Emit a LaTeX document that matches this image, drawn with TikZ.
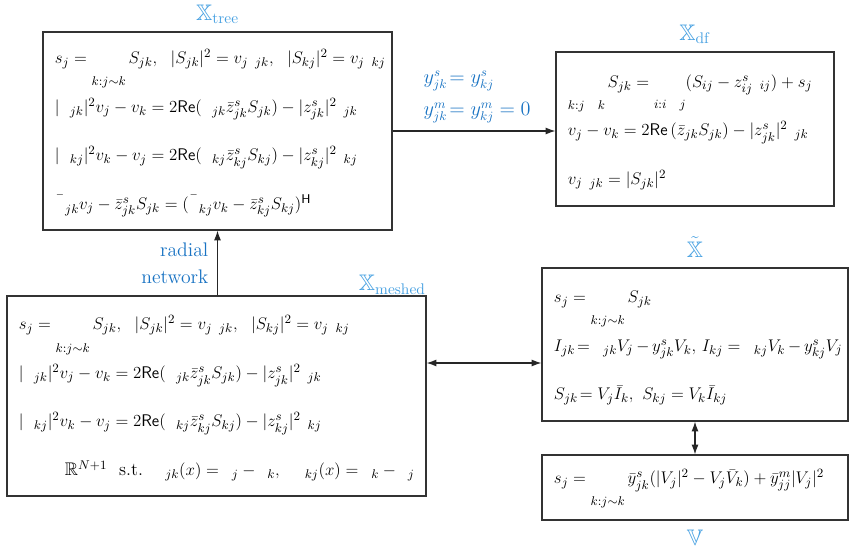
\documentclass[tikz,border=0pt]{standalone}
\usepackage{amsmath}
\usepackage{amssymb}
\usepackage{xcolor}
\usetikzlibrary{arrows.meta, positioning, calc}

\definecolor{setblue}{RGB}{70,160,225}
\definecolor{noteblue}{RGB}{25,115,195}

% sum sign left blank, limits kept
\newcommand{\gapsum}[1]{\mathop{\phantom{\displaystyle\sum}}\limits_{#1}}
\newcommand{\gap}[1]{\phantom{#1}}
% one equation line, never broken or stretched
\newcommand{\eqline}[1]{\mbox{$#1$}}

\tikzset{
  eqbox/.style={draw=black!80, line width=0.8pt, rectangle, inner xsep=0.3cm,
    align=flush left, font=\fontsize{13}{34.5}\selectfont},
  setlabel/.style={text=setblue, font=\fontsize{16}{19}\selectfont, inner sep=1pt},
  note/.style={text=noteblue, font=\fontsize{14}{19}\selectfont, inner sep=1pt},
  link/.style={-{Latex[length=7pt,width=5pt]}, line width=0.8pt, black!85},
  twoway/.style={{Latex[length=7pt,width=5pt]}-{Latex[length=7pt,width=5pt]},
    line width=0.8pt, black!85}
}

\begin{document}
\begin{tikzpicture}[x=0.025cm, y=-0.025cm]
    % page frame (pixel units)
    \useasboundingbox (0,0) rectangle (850,551);

    % Tree relaxation
    \node[eqbox, text width=8.125cm, minimum height=4.95cm] (tree) at (217.5,131) {
        \eqline{s_j = \gapsum{k:j\sim k} S_{jk},\;\ |S_{jk}|^2 = v_j\gap{\ell}_{jk},\;\ |S_{kj}|^2 = v_j\gap{\ell}_{kj}}\\
        \eqline{|\gap{\beta}_{jk}|^2 v_j - v_k = 2\mathsf{Re}(\gap{\beta}_{jk}\bar z^s_{jk}S_{jk}) - |z^s_{jk}|^2\gap{\ell}_{jk}}\\
        \eqline{|\gap{\beta}_{kj}|^2 v_k - v_j = 2\mathsf{Re}(\gap{\beta}_{kj}\bar z^s_{kj}S_{kj}) - |z^s_{kj}|^2\gap{\ell}_{kj}}\\
        \eqline{\bar{\gap{\beta}}_{jk}v_j - \bar z^s_{jk}S_{jk} = (\bar{\gap{\beta}}_{kj}v_k - \bar z^s_{kj}S_{kj})^{\mathsf{H}}}
    };
    \node[setlabel, above=0.15cm of tree] (treelabel) {$\mathbb{X}_{\mathrm{tree}}$};

    % DistFlow
    \node[eqbox, text width=6.35cm, minimum height=3.85cm] (df) at (695,129) {
        \eqline{\gapsum{k:j\gap{\to}k} S_{jk} = \gapsum{i:i\gap{\to}j}(S_{ij} - z^s_{ij}\gap{\ell}_{ij}) + s_j}\\
        \eqline{v_j - v_k = 2\mathsf{Re}\,(\bar z_{jk}S_{jk}) - |z^s_{jk}|^2\gap{\ell}_{jk}}\\
        \eqline{v_j\gap{\ell}_{jk} = |S_{jk}|^2}
    };
    \node[setlabel, above=0.15cm of df] (dflabel) {$\mathbb{X}_{\mathrm{df}}$};

    % Meshed network
    \node[eqbox, text width=9.875cm, minimum height=5cm] (meshed) at (216.5,396) {
        \eqline{s_j = \gapsum{k:j\sim k} S_{jk},\;\ |S_{jk}|^2 = v_j\gap{\ell}_{jk},\;\ |S_{kj}|^2 = v_j\gap{\ell}_{kj}}\\
        \eqline{|\gap{\beta}_{jk}|^2 v_j - v_k = 2\mathsf{Re}(\gap{\beta}_{jk}\bar z^s_{jk}S_{jk}) - |z^s_{jk}|^2\gap{\ell}_{jk}}\\
        \eqline{|\gap{\beta}_{kj}|^2 v_k - v_j = 2\mathsf{Re}(\gap{\beta}_{kj}\bar z^s_{kj}S_{kj}) - |z^s_{kj}|^2\gap{\ell}_{kj}}\\
        \eqline{\hspace{1.15cm}\mathbb{R}^{N+1}\ \ \text{s.t.}\ \ \gap{\beta}_{jk}(x) = \gap{\theta}_j - \gap{\theta}_k,\ \ \gap{\beta}_{kj}(x) = \gap{\theta}_k - \gap{\theta}_j}
    };
    \node[setlabel, anchor=south east, inner sep=0.5pt] (meshedlabel) at (meshed.north east) {$\mathbb{X}_{\mathrm{meshed}}$};

    % Branch flow model
    \node[eqbox, text width=7.05cm, minimum height=3.825cm] (bfm) at (695,344.5) {
        \eqline{s_j = \gapsum{k:j\sim k} S_{jk}}\\
        \eqline{\medmuskip=3mu I_{jk}\!= \gap{y}_{jk}V_j - y^s_{jk}V_k,\, I_{kj} = \gap{y}_{kj}V_k - y^s_{kj}V_j}\\
        \eqline{S_{jk}\!= V_j\bar I_k,\ S_{kj} = V_k\bar I_{kj}}
    };
    \node[setlabel, above=0.2cm of bfm] (bfmlabel) {$\tilde{\mathbb{X}}$};

    % Bus injection model
    \node[eqbox, text width=7.05cm, minimum height=1.625cm] (bim) at (695,487.5) {
        \eqline{s_j = \gapsum{k:j\sim k} \bar y^s_{jk}(|V_j|^2 - V_j\bar V_k) + \bar y^m_{jj}|V_j|^2}
    };
    \node[setlabel, below=0.2cm of bim] (bimlabel) {$\mathbb{V}$};

    % Connectors
    \draw[link] (tree.east) -- (tree.east -| df.west);
    \node[note, anchor=west, align=left, font=\fontsize{13.5}{23}\selectfont] (cond) at (422,97)
        {$y^s_{jk}\!=y^s_{kj}$\\ $y^m_{jk}\!=y^m_{kj}=0$};

    \draw[link] (tree.south |- meshed.north) -- (tree.south);
    \node[note, anchor=east, align=right] (radial) at (210,263) {radial\\network};

    \coordinate (mid) at (484,363);
    \draw[twoway] (meshed.east |- mid) -- (bfm.west |- mid);
    \draw[twoway] (bfm.south) -- (bim.north);
\end{tikzpicture}
\end{document}
